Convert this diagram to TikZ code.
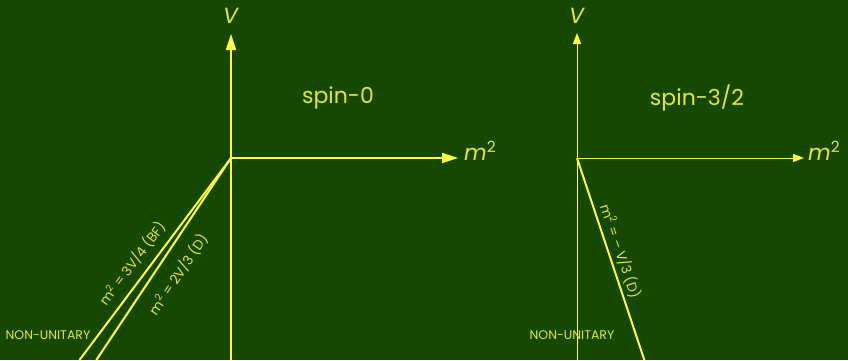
\documentclass[tikz,border=0pt]{standalone}
\usepackage{fontspec}
\setmainfont{Poppins}
\usepackage{tikz}
\usetikzlibrary{arrows.meta, positioning, calc}
\definecolor{board}{RGB}{23,72,0}
\definecolor{chalk}{RGB}{255,255,70}
\definecolor{chalktext}{RGB}{225,230,60}
\tikzset{
  axis/.style={line width=2pt, draw=chalk, -{Triangle[length=16pt,width=10pt]}},
  thinaxis/.style={line width=1pt, draw=chalk, -{Triangle[length=11pt,width=8pt]}},
  bound/.style={line width=2pt, draw=chalk},
  axlabel/.style={text=chalktext, font=\fontsize{22}{24}\selectfont, inner sep=1pt},
  title/.style={text=chalktext, font=\fontsize{22}{26}\selectfont},
  linelabel/.style={text=chalktext, font=\fontsize{13.5}{15}\selectfont, sloped, inner sep=5pt},
  region/.style={text=chalktext, font=\fontsize{12.5}{14}\selectfont, inner sep=0pt}
}
\begin{document}
\begin{tikzpicture}[x=1pt,y=1pt]

\fill[board] (0,0) rectangle (848,360);
\useasboundingbox (0,0) rectangle (848,360);

% spin-0
\coordinate (o0) at (231,202);
\coordinate (v0bot) at (231,0);
\coordinate (v0top) at (231,326);
\coordinate (m0end) at (458,202);
\coordinate (bf0) at (79.5,0);
\coordinate (d0) at (96.3,0);
\node[axlabel] (v0lab) at (231,344) {\textit{V}};
\node[axlabel, anchor=west] (m0lab) at (463,209) {\textit{m}\textsuperscript{2}};
\node[title] (spin0) at (338,262) {spin-0};
\node[region] (nu0) at (48,25) {NON-UNITARY};

\draw[axis] (v0bot) -- (v0top);
\draw[axis] (o0) -- (m0end);
\draw[bound] (o0) -- node[linelabel, pos=0.57, above, inner sep=7pt]
  {m\textsuperscript{2} = 3V/4 (BF)} (bf0);
\draw[bound] (o0) -- node[linelabel, pos=0.52, below, inner sep=12pt]
  {m\textsuperscript{2} = 2V/3 (D)} (d0);

% spin-3/2
\coordinate (o1) at (577,202);
\coordinate (v1bot) at (577,0);
\coordinate (v1top) at (577,327);
\coordinate (m1end) at (804,202);
\coordinate (d1) at (644.3,0);
\node[axlabel] (v1lab) at (577,344) {\textit{V}};
\node[axlabel, anchor=west] (m1lab) at (807,209) {\textit{m}\textsuperscript{2}};
\node[title] (spin1) at (697,262) {spin-3/2};
\node[region] (nu1) at (572,25) {NON-UNITARY};

\draw[thinaxis] (v1bot) -- (v1top);
\draw[thinaxis] (o1) -- (m1end);
\draw[bound] (o1) -- node[linelabel, pos=0.48, above, inner sep=3pt]
  {m\textsuperscript{2} = -- V/3 (D)} (d1);

\end{tikzpicture}
\end{document}
